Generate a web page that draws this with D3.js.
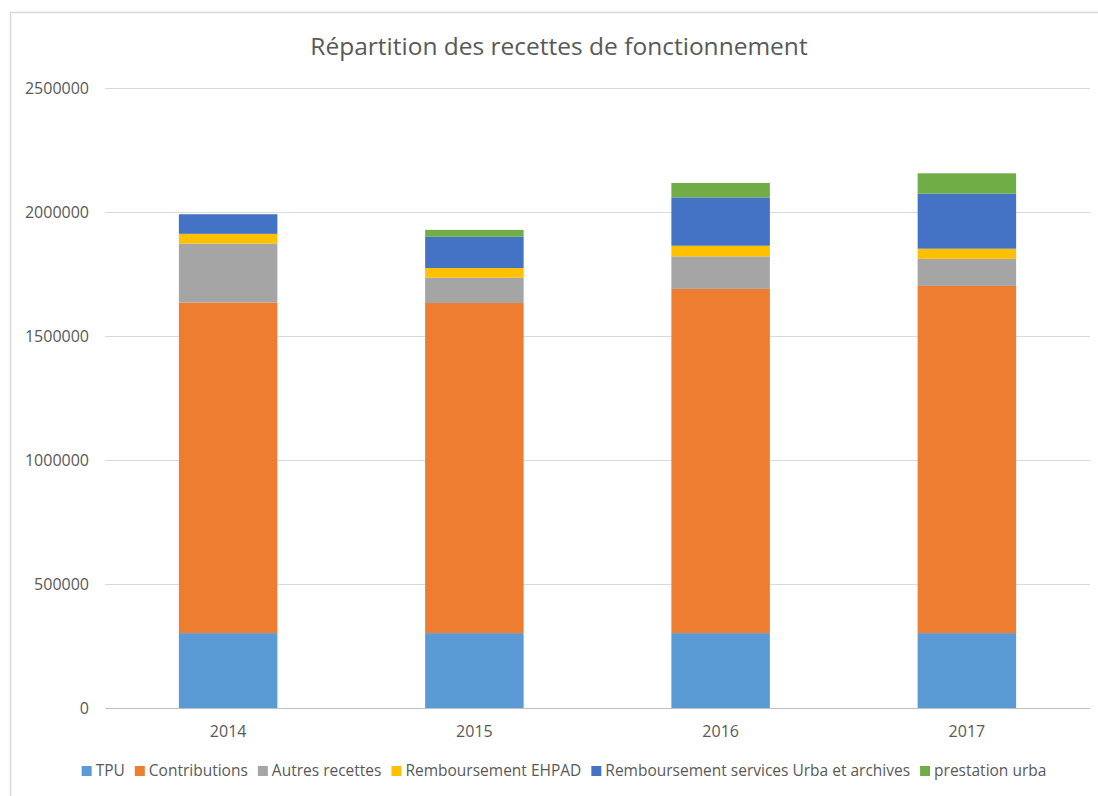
<!DOCTYPE html>
<html>
<head>
<meta charset="utf-8">
<script src="https://cdn.jsdelivr.net/npm/d3@7"></script>
<style>
  body { margin: 0; background: #fff; }
  text { font-family: "Open Sans", sans-serif; fill: #595959; }
</style>
</head>
<body>
<script>
// recettes de fonctionnement, par année
var years = ["2014", "2015", "2016", "2017"];
var tpu = [302000, 302000, 302000, 302000];
var contributions = [1333000, 1331000, 1388000, 1400000];
var autres = [238000, 102000, 131000, 109000];
var ehpad = [39000, 39000, 43000, 41000];
var urba = [79000, 126000, 195000, 222000];
var prestation = [0, 28000, 58000, 82000];
var yTicks = [0, 500000, 1000000, 1500000, 2000000, 2500000];

var seriesNames = ["TPU", "Contributions", "Autres recettes", "Remboursement EHPAD",
  "Remboursement services Urba et archives", "prestation urba"];
var colors = ["#5b9bd5", "#ed7d31", "#a5a5a5", "#ffc000", "#4472c4", "#70ad47"];

var width = 1098;
var height = 796;
var margin = {top: 88, right: 8, bottom: 88, left: 105};

var svg = d3.select("body")
  .append("svg")
  .attr("width", width)
  .attr("height", height);

// cadre du graphique
svg.append("rect")
  .attr("x", 10.5)
  .attr("y", 12.5)
  .attr("width", 1100)
  .attr("height", 800)
  .attr("fill", "none")
  .attr("stroke", "#d9d9d9")
  .attr("stroke-width", 1.5);

var table = years.map(function(y, i) {
  return {
    year: y,
    "TPU": tpu[i],
    "Contributions": contributions[i],
    "Autres recettes": autres[i],
    "Remboursement EHPAD": ehpad[i],
    "Remboursement services Urba et archives": urba[i],
    "prestation urba": prestation[i]
  };
});

var stack = d3.stack().keys(seriesNames)(table);

var h = 708 - margin.top;

var g = svg.append("g")
  .attr("transform", "translate(" + margin.left + "," + margin.top + ")");

var x = d3.scaleBand()
  .domain(years)
  .range([0, 985])
  .paddingInner(0.6)
  .paddingOuter(0.3);

var y = d3.scaleLinear()
  .domain([0, 2500000])
  .range([h, 0]);

// grille
g.append("g")
  .selectAll("line")
  .data(yTicks)
  .enter()
  .append("line")
  .attr("x1", 0)
  .attr("x2", 985)
  .attr("y1", function(d) { return Math.round(y(d)) + 0.5; })
  .attr("y2", function(d) { return Math.round(y(d)) + 0.5; })
  .attr("stroke", function(d) { return d === 0 ? "#bfbfbf" : "#d9d9d9"; })
  .attr("stroke-width", 1);

var yAxis = g.append("g")
  .call(d3.axisLeft(y).tickValues(yTicks).tickSize(0).tickPadding(16).tickFormat(d3.format("d")));
yAxis.select(".domain").remove();
yAxis.selectAll("text")
  .style("font-size", "16px")
  .style("fill", "#595959");

var xAxis = g.append("g")
  .attr("transform", "translate(0," + h + ")")
  .call(d3.axisBottom(x).tickSize(0).tickPadding(18));
xAxis.select(".domain").remove();
xAxis.selectAll("text")
  .style("font-size", "16px")
  .style("fill", "#595959");

g.selectAll(".serie")
  .data(stack)
  .enter()
  .append("g")
  .attr("class", "serie")
  .attr("fill", function(d, i) { return colors[i]; })
  .selectAll("rect")
  .data(function(d) { return d; })
  .enter()
  .append("rect")
  .attr("x", function(d) { return x(d.data.year); })
  .attr("width", x.bandwidth())
  .attr("y", function(d) { return y(d[1]); })
  .attr("height", function(d) { return y(d[0]) - y(d[1]); });

// titre
svg.append("text")
  .attr("x", 559)
  .attr("y", 55)
  .attr("text-anchor", "middle")
  .style("font-size", "24.5px")
  .text("Répartition des recettes de fonctionnement");

// légende
var legend = svg.append("g")
  .attr("transform", "translate(0,771)");

var items = legend.selectAll("g")
  .data(seriesNames)
  .enter()
  .append("g");

items.append("rect")
  .attr("width", 10)
  .attr("height", 10)
  .attr("y", -5)
  .attr("fill", function(d, i) { return colors[i]; });

items.append("text")
  .attr("x", 14)
  .attr("dy", "0.35em")
  .style("font-size", "15.5px")
  .text(function(d) { return d; });

var gap = 10;
var pos = 0;
var offsets = [];
items.each(function() {
  offsets.push(pos);
  pos += 14 + this.querySelector("text").getComputedTextLength() + gap;
});
var start = 564 - (pos - gap) / 2;
items.attr("transform", function(d, i) { return "translate(" + (start + offsets[i]) + ",0)"; });
</script>
</body>
</html>
